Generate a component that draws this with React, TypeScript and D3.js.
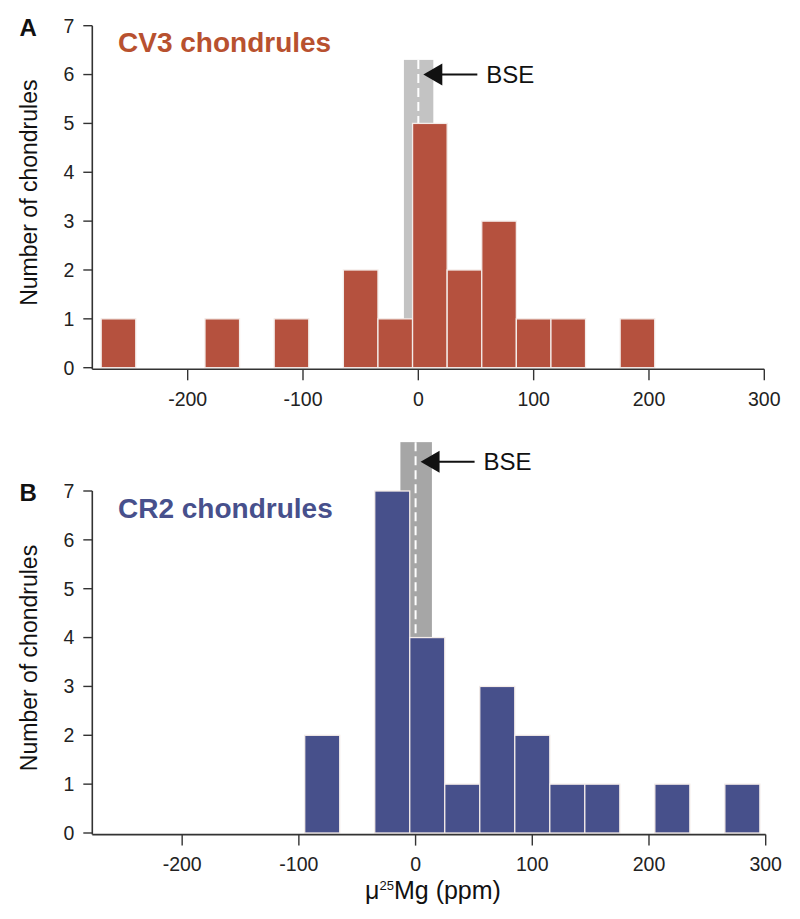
import React from "react";
import * as d3 from "d3";

const BIN_WIDTH = 30;
const cv3BinStarts = [-275, -185, -125, -65, -35, -5, 25, 55, 85, 115, 175];
const cv3Counts = [1, 1, 1, 2, 1, 5, 2, 3, 1, 1, 1];
const cr2BinStarts = [-95, -35, -5, 25, 55, 85, 115, 145, 205, 265];
const cr2Counts = [2, 7, 4, 1, 3, 2, 1, 1, 1, 1];
const xTickValues = [-200, -100, 0, 100, 200, 300];
const yTickValues = [0, 1, 2, 3, 4, 5, 6, 7];
const panelLetters = ["A", "B"];
const panelTitles = ["CV3 chondrules", "CR2 chondrules"];
const bseBand = [
  { lo: -12.5, hi: 13, top: 6.3, arrowY: 6.0 },
  { lo: -13, hi: 14, top: 8.0, arrowY: 7.6 },
];
const bseValue = 0;

const FONT = "'Liberation Sans', Arial, Helvetica, sans-serif";

type PanelProps = {
  letter: string;
  title: string;
  titleColor: string;
  barColor: string;
  bandColor: string;
  starts: number[];
  counts: number[];
  xDomain: [number, number];
  xRange: [number, number];
  yRange: [number, number];
  band: { lo: number; hi: number; top: number; arrowY: number };
};

function Panel(p: PanelProps) {
  const x = d3.scaleLinear().domain(p.xDomain).range(p.xRange);
  const y = d3.scaleLinear().domain([0, 7]).range(p.yRange);
  const axisY = y(0) + 1.6;
  const axisX = p.xRange[0];
  const bars = p.starts.map((s, i) => ({ s, c: p.counts[i] }));
  const arrowY = y(p.band.arrowY);
  const tipX = x(bseValue) + 5;
  const midY = (y(0) + y(7)) / 2 - 4;
  return (
    <g>
      {/* BSE band */}
      <rect
        x={x(p.band.lo)}
        y={y(p.band.top)}
        width={x(p.band.hi) - x(p.band.lo)}
        height={y(0) - y(p.band.top)}
        fill={p.bandColor}
      />
      <line
        x1={x(bseValue)}
        x2={x(bseValue)}
        y1={y(p.band.top)}
        y2={y(0)}
        stroke="#ffffff"
        strokeWidth={2}
        strokeDasharray="9,5"
      />
      {/* bars */}
      {bars.map((b, i) => (
        <rect
          key={i}
          x={x(b.s)}
          y={y(b.c)}
          width={x(b.s + BIN_WIDTH) - x(b.s)}
          height={y(0) - y(b.c)}
          fill={p.barColor}
          stroke="#f4ece9"
          strokeWidth={1.3}
        />
      ))}
      {/* y axis */}
      <line x1={axisX} x2={axisX} y1={y(7)} y2={axisY} stroke="#333" strokeWidth={1.6} />
      {yTickValues.map((t) => (
        <g key={t}>
          <line x1={axisX - 9} x2={axisX} y1={y(t)} y2={y(t)} stroke="#333" strokeWidth={1.4} />
          <text
            x={axisX - 18}
            y={y(t)}
            dy="0.35em"
            textAnchor="end"
            fontFamily={FONT}
            fontSize={19.5}
            fill="#222"
          >
            {t}
          </text>
        </g>
      ))}
      {/* x axis */}
      <line x1={axisX} x2={x(300)} y1={axisY} y2={axisY} stroke="#333" strokeWidth={1.6} />
      {xTickValues.map((t) => (
        <g key={t}>
          <line x1={x(t)} x2={x(t)} y1={axisY} y2={axisY + 11} stroke="#333" strokeWidth={1.4} />
          <text
            x={x(t)}
            y={axisY + 36.5}
            textAnchor="middle"
            fontFamily={FONT}
            fontSize={19.5}
            fill="#222"
          >
            {t}
          </text>
        </g>
      ))}
      {/* y label */}
      <text
        transform={`translate(36.5, ${midY}) rotate(-90)`}
        textAnchor="middle"
        fontFamily={FONT}
        fontSize={23}
        fill="#111"
      >
        Number of chondrules
      </text>
      {/* panel letter */}
      <text x={19.5} y={y(7) + 10} fontFamily={FONT} fontSize={24} fontWeight="bold" fill="#111">
        {p.letter}
      </text>
      {/* title */}
      <text
        x={118}
        y={y(7) + 26.5}
        fontFamily={FONT}
        fontSize={28}
        fontWeight="bold"
        fill={p.titleColor}
      >
        {p.title}
      </text>
      {/* BSE arrow */}
      <line x1={tipX + 16} x2={tipX + 54} y1={arrowY} y2={arrowY} stroke="#111" strokeWidth={2} />
      <path
        d={`M${tipX},${arrowY} L${tipX + 19},${arrowY - 11} L${tipX + 19},${arrowY + 11} Z`}
        fill="#111"
      />
      <text
        x={tipX + 63}
        y={arrowY}
        dy="0.36em"
        fontFamily={FONT}
        fontSize={24}
        fill="#111"
      >
        BSE
      </text>
    </g>
  );
}

export default function App() {
  return (
    <svg
      width={800}
      height={919}
      viewBox="0 0 800 919"
      style={{ position: "absolute", left: 0, top: 0, background: "#fff" }}
    >
      <rect width={800} height={919} fill="#fff" />
      <Panel
        letter={panelLetters[0]}
        title={panelTitles[0]}
        titleColor="#b8512f"
        barColor="#b5513e"
        bandColor="#c3c3c3"
        starts={cv3BinStarts}
        counts={cv3Counts}
        xDomain={[-282.7, 300]}
        xRange={[92.3, 764.3]}
        yRange={[367.7, 25.7]}
        band={bseBand[0]}
      />
      <Panel
        letter={panelLetters[1]}
        title={panelTitles[1]}
        titleColor="#47508c"
        barColor="#47508b"
        bandColor="#a6a6a6"
        starts={cr2BinStarts}
        counts={cr2Counts}
        xDomain={[-277, 300]}
        xRange={[92.3, 765.7]}
        yRange={[833, 491]}
        band={bseBand[1]}
      />
      <text
        x={433}
        y={899}
        textAnchor="middle"
        fontFamily={FONT}
        fontSize={25}
        fill="#111"
      >
        μ<tspan fontSize={13} dy={-9}>25</tspan>
        <tspan dy={9}>Mg (ppm)</tspan>
      </text>
    </svg>
  );
}
